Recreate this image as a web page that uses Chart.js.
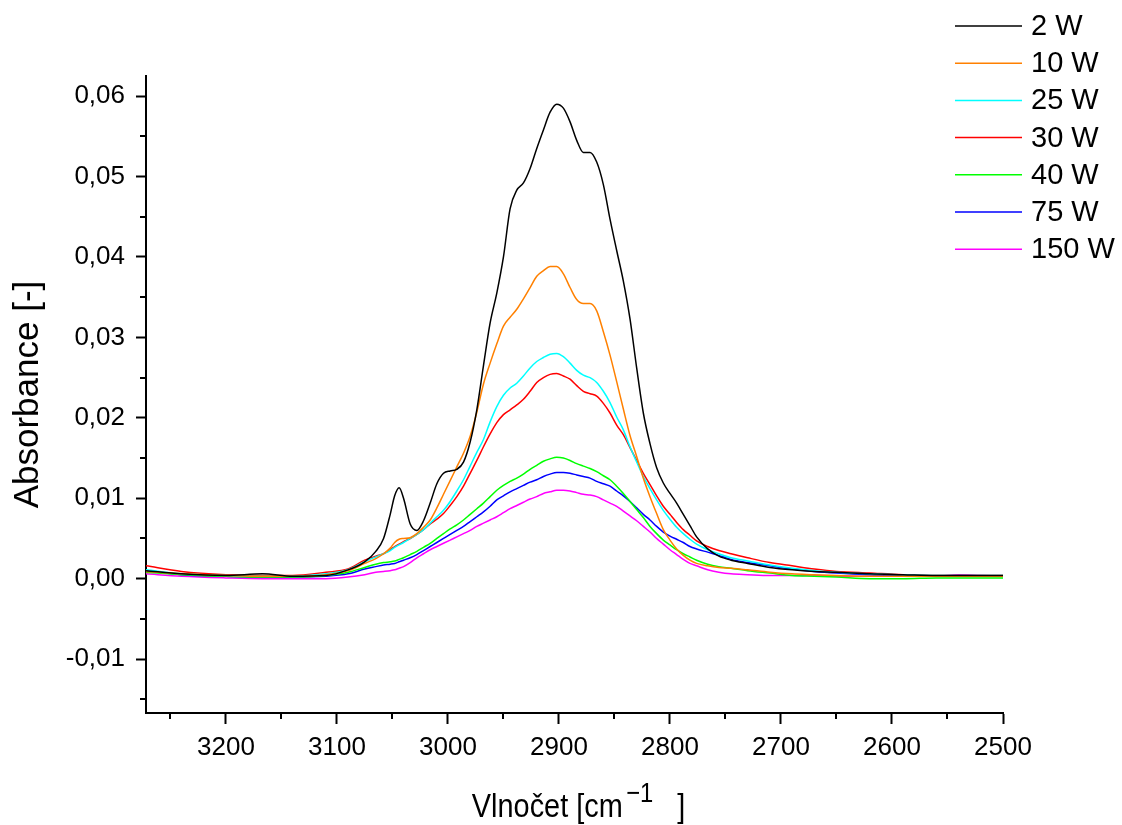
<!DOCTYPE html>
<html>
<head>
<meta charset="utf-8">
<script src="https://cdn.jsdelivr.net/npm/chart.js@4.4.1/dist/chart.umd.min.js"></script>
<style>
  html, body { margin: 0; padding: 0; background: #fff; }
  #wrap { width: 1122px; height: 825px; }
</style>
</head>
<body>
<div id="wrap"><canvas id="chart" width="1122" height="825"></canvas></div>
<script>
// wavenumbers [cm-1], shared by all series
const wavenumbers = [3272, 3240, 3200, 3167, 3140, 3110, 3090, 3075, 3065, 3058, 3052, 3048, 3044, 3040, 3034,
  3028, 3022, 3016, 3010, 3004, 2998, 2992, 2986, 2980, 2974, 2968, 2962, 2956, 2950, 2944, 2938, 2932, 2926,
  2920, 2914, 2908, 2902, 2896, 2890, 2884, 2878, 2872, 2866, 2860, 2854, 2848, 2842, 2836, 2830, 2824, 2818,
  2812, 2806, 2800, 2794, 2788, 2782, 2776, 2766, 2756, 2745, 2730, 2710, 2690, 2670, 2650, 2620, 2590, 2560,
  2540, 2520, 2500];

const w2 = [0.0010, 0.0006, 0.0004, 0.0006, 0.0003, 0.0004, 0.0011, 0.0021, 0.0034, 0.0050, 0.0080, 0.0103, 0.0113, 0.0100, 0.0068,
  0.0060, 0.0072, 0.0094, 0.0118, 0.0131, 0.0134, 0.0136, 0.0145, 0.0170, 0.0210, 0.0265, 0.0318, 0.0355, 0.0400, 0.0460, 0.0483, 0.0492, 0.0510,
  0.0535, 0.0558, 0.0580, 0.0590, 0.0585, 0.0568, 0.0545, 0.0530, 0.0530, 0.0518, 0.0490, 0.0447, 0.0408, 0.0370, 0.0323, 0.0262, 0.0206, 0.0168,
  0.0138, 0.0119, 0.0106, 0.0094, 0.0080, 0.0066, 0.0052, 0.0037, 0.0028, 0.0023, 0.0019, 0.0014, 0.0011, 0.0009, 0.0008, 0.0006, 0.0005, 0.0004,
  0.0004, 0.0004, 0.0004];

const w10 = [0.0009, 0.0006, 0.0004, 0.0003, 0.0003, 0.0005, 0.0010, 0.0019, 0.0025, 0.0031, 0.0038, 0.0045, 0.0049, 0.0050, 0.0051,
  0.0056, 0.0064, 0.0073, 0.0088, 0.0105, 0.0122, 0.0139, 0.0156, 0.0177, 0.0207, 0.0242, 0.0268, 0.0292, 0.0314, 0.0325, 0.0335, 0.0348, 0.0362,
  0.0376, 0.0383, 0.0388, 0.0388, 0.0379, 0.0362, 0.0347, 0.0342, 0.0342, 0.0333, 0.0307, 0.0278, 0.0245, 0.0211, 0.0178, 0.0152, 0.0125, 0.0102,
  0.0081, 0.0061, 0.0048, 0.0037, 0.0029, 0.0023, 0.0019, 0.0016, 0.0014, 0.0013, 0.0011, 0.0008, 0.0006, 0.0005, 0.0004, 0.0003, 0.0003, 0.0003,
  0.0003, 0.0003, 0.0003];

const w25 = [0.0011, 0.0006, 0.0004, 0.0003, 0.0003, 0.0006, 0.0011, 0.0021, 0.0027, 0.0031, 0.0035, 0.0039, 0.0042, 0.0045, 0.0050,
  0.0055, 0.0061, 0.0069, 0.0077, 0.0085, 0.0096, 0.0109, 0.0123, 0.0140, 0.0157, 0.0173, 0.0195, 0.0214, 0.0228, 0.0237, 0.0243, 0.0252, 0.0262,
  0.0270, 0.0275, 0.0279, 0.0280, 0.0276, 0.0268, 0.0259, 0.0253, 0.0250, 0.0244, 0.0233, 0.0219, 0.0201, 0.0185, 0.0164, 0.0145, 0.0127, 0.0112,
  0.0098, 0.0085, 0.0074, 0.0064, 0.0056, 0.0049, 0.0043, 0.0036, 0.0031, 0.0026, 0.0022, 0.0017, 0.0013, 0.0010, 0.0008, 0.0006, 0.0005, 0.0004,
  0.0004, 0.0004, 0.0004];

const w30 = [0.0016, 0.0009, 0.0005, 0.0004, 0.0004, 0.0008, 0.0012, 0.0023, 0.0028, 0.0031, 0.0036, 0.0040, 0.0043, 0.0046, 0.0050,
  0.0055, 0.0061, 0.0068, 0.0074, 0.0081, 0.0091, 0.0102, 0.0115, 0.0131, 0.0147, 0.0164, 0.0180, 0.0194, 0.0204, 0.0210, 0.0216, 0.0223, 0.0233,
  0.0244, 0.0250, 0.0254, 0.0255, 0.0252, 0.0248, 0.0240, 0.0233, 0.0230, 0.0227, 0.0218, 0.0206, 0.0191, 0.0179, 0.0163, 0.0147, 0.0131, 0.0117,
  0.0103, 0.0090, 0.0080, 0.0070, 0.0061, 0.0054, 0.0047, 0.0040, 0.0035, 0.0031, 0.0026, 0.0020, 0.0016, 0.0012, 0.0009, 0.0007, 0.0005, 0.0004,
  0.0004, 0.0004, 0.0004];

const w40 = [0.0008, 0.0005, 0.0003, 0.0002, 0.0002, 0.0004, 0.0008, 0.0014, 0.0018, 0.0020, 0.0021, 0.0022, 0.0024, 0.0026, 0.0030,
  0.0034, 0.0039, 0.0044, 0.0050, 0.0056, 0.0062, 0.0067, 0.0073, 0.0080, 0.0087, 0.0094, 0.0102, 0.0110, 0.0116, 0.0121, 0.0125, 0.0130, 0.0136,
  0.0141, 0.0146, 0.0149, 0.0151, 0.0150, 0.0147, 0.0143, 0.0140, 0.0137, 0.0133, 0.0128, 0.0123, 0.0115, 0.0106, 0.0096, 0.0086, 0.0076, 0.0065,
  0.0056, 0.0048, 0.0042, 0.0036, 0.0031, 0.0027, 0.0023, 0.0018, 0.0015, 0.0013, 0.0010, 0.0007, 0.0004, 0.0003, 0.0002, 0.0000, 0.0000, 0.0001,
  0.0001, 0.0001, 0.0001];

const w75 = [0.0010, 0.0005, 0.0003, 0.0002, 0.0002, 0.0003, 0.0006, 0.0012, 0.0015, 0.0017, 0.0018, 0.0019, 0.0021, 0.0023, 0.0026,
  0.0030, 0.0035, 0.0040, 0.0045, 0.0050, 0.0055, 0.0060, 0.0065, 0.0071, 0.0077, 0.0083, 0.0090, 0.0098, 0.0103, 0.0108, 0.0112, 0.0116, 0.0120,
  0.0123, 0.0127, 0.0130, 0.0132, 0.0132, 0.0131, 0.0129, 0.0127, 0.0125, 0.0121, 0.0118, 0.0115, 0.0109, 0.0103, 0.0096, 0.0088, 0.0080, 0.0073,
  0.0065, 0.0058, 0.0053, 0.0049, 0.0045, 0.0040, 0.0037, 0.0033, 0.0029, 0.0024, 0.0020, 0.0016, 0.0012, 0.0009, 0.0007, 0.0005, 0.0004, 0.0003,
  0.0003, 0.0003, 0.0003];

const w150 = [0.0006, 0.0003, 0.0001, 0.0000, 0.0000, 0.0000, 0.0002, 0.0005, 0.0008, 0.0009, 0.0010, 0.0011, 0.0013, 0.0015, 0.0020,
  0.0026, 0.0031, 0.0036, 0.0040, 0.0044, 0.0048, 0.0052, 0.0056, 0.0060, 0.0065, 0.0069, 0.0073, 0.0077, 0.0082, 0.0087, 0.0091, 0.0095, 0.0099,
  0.0102, 0.0106, 0.0108, 0.0110, 0.0110, 0.0109, 0.0107, 0.0105, 0.0104, 0.0102, 0.0098, 0.0094, 0.0090, 0.0084, 0.0078, 0.0072, 0.0065, 0.0058,
  0.0050, 0.0043, 0.0036, 0.0030, 0.0024, 0.0019, 0.0016, 0.0011, 0.0008, 0.0006, 0.0005, 0.0004, 0.0004, 0.0004, 0.0003, 0.0003, 0.0003, 0.0003,
  0.0005, 0.0004, 0.0003];

const seriesNames = ['2 W', '10 W', '25 W', '30 W', '40 W', '75 W', '150 W'];
const seriesValues = [w2, w10, w25, w30, w40, w75, w150];
const seriesColors = ['#000000', '#ff8000', '#00ffff', '#ff0000', '#00ff00', '#0000ff', '#ff00ff'];

const xMinorTicks = [3250, 3150, 3050, 2950, 2850, 2750, 2650, 2550];
const yMinorTicks = [-0.015, -0.005, 0.005, 0.015, 0.025, 0.035, 0.045, 0.055];

const FONT = "'Liberation Sans', Arial, sans-serif";

function toPoints(vals) {
  return vals.map((v, i) => ({ x: wavenumbers[i], y: v }));
}

const datasets = seriesNames.map((name, i) => ({
  label: name,
  data: toPoints(seriesValues[i]),
  borderColor: seriesColors[i],
  backgroundColor: seriesColors[i],
  borderWidth: 1.5,
  pointRadius: 0,
  cubicInterpolationMode: 'monotone',
  fill: false
}));

// minor ticks, legend and the x-axis title (condensed, with superscript)
const extras = {
  id: 'extras',
  afterDraw(chart) {
    const ctx = chart.ctx;
    const xs = chart.scales.x, ys = chart.scales.y;
    const area = chart.chartArea;
    ctx.save();
    ctx.strokeStyle = '#000';
    ctx.lineWidth = 2;
    ctx.beginPath();
    xMinorTicks.forEach(v => {
      const px = Math.round(xs.getPixelForValue(v));
      ctx.moveTo(px, area.bottom);
      ctx.lineTo(px, area.bottom + 6);
    });
    yMinorTicks.forEach(v => {
      const py = Math.round(ys.getPixelForValue(v));
      ctx.moveTo(area.left, py);
      ctx.lineTo(area.left - 6, py);
    });
    ctx.stroke();

    // legend
    ctx.font = '29px ' + FONT;
    ctx.textBaseline = 'middle';
    ctx.textAlign = 'left';
    chart.data.datasets.forEach((ds, i) => {
      const y = 26 + i * 37.2;
      ctx.strokeStyle = ds.borderColor;
      ctx.lineWidth = 1.5;
      ctx.beginPath();
      ctx.moveTo(955, y);
      ctx.lineTo(1022, y);
      ctx.stroke();
      ctx.fillStyle = '#000';
      ctx.fillText(ds.label, 1031, y + 1);
    });

    // x title
    const sx = 0.85;
    ctx.fillStyle = '#000';
    ctx.textBaseline = 'alphabetic';
    ctx.font = '34px ' + FONT;
    const main = 'Vlnočet [cm';
    const w1 = ctx.measureText(main).width;
    const supX = w1 + 4;
    const closeX = supX + 60;
    const total = (closeX + ctx.measureText(']').width) * sx;
    const x0 = (area.left + area.right) / 2 + 4 - total / 2;
    const base = area.bottom + 104;
    ctx.translate(x0, base);
    ctx.scale(sx, 1);
    ctx.fillText(main, 0, 0);
    ctx.fillText(']', closeX, 0);
    ctx.font = '28px ' + FONT;
    ctx.fillText('\u22121', supX, -15);
    ctx.restore();
  }
};

const fmtY = v => {
  const r = Math.round(v * 100) / 100;
  return (r === 0 ? 0 : r).toFixed(2).replace('.', ',');
};

new Chart(document.getElementById('chart'), {
  type: 'line',
  data: { datasets },
  options: {
    responsive: false,
    animation: false,
    layout: { padding: { top: 76, right: 119, left: 0, bottom: 0 } },
    plugins: {
      legend: { display: false },
      tooltip: { enabled: false }
    },
    scales: {
      x: {
        type: 'linear',
        reverse: true,
        min: 2500,
        max: 3272,
        afterFit(scale) { scale.height = 112; },
        border: { display: true, color: '#000', width: 2 },
        grid: { drawOnChartArea: false, drawTicks: true, tickLength: 11, tickWidth: 2, tickColor: '#000' },
        ticks: {
          stepSize: 100,
          includeBounds: false,
          autoSkip: false,
          maxRotation: 0,
          padding: 8,
          color: '#000',
          font: { family: FONT, size: 26 },
          callback: v => String(v)
        },
        title: { display: false }
      },
      y: {
        type: 'linear',
        min: -0.0167,
        max: 0.0625,
        afterFit(scale) { scale.width = 146; },
        border: { display: true, color: '#000', width: 2 },
        grid: { drawOnChartArea: false, drawTicks: true, tickLength: 10, tickWidth: 2, tickColor: '#000' },
        ticks: {
          stepSize: 0.01,
          includeBounds: false,
          padding: 11,
          color: '#000',
          font: { family: FONT, size: 26 },
          callback: fmtY
        },
        title: {
          display: true,
          text: 'Absorbance [-]',
          color: '#000',
          font: { family: FONT, size: 35 },
          padding: { top: 7, bottom: 0 }
        }
      }
    }
  },
  plugins: [extras]
});
</script>
</body>
</html>
